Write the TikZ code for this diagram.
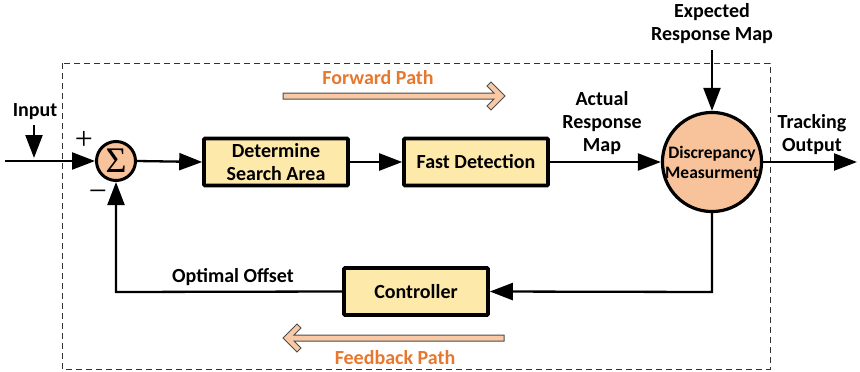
\documentclass[tikz,border=0pt]{standalone}
\usepackage{fontspec}
\setmainfont{Carlito}
\newfontfamily\sigfont{Liberation Serif}
\usetikzlibrary{arrows.meta}
\definecolor{boxfill}{HTML}{FDE9A9}
\definecolor{circfill}{HTML}{F8C39A}
\definecolor{pathtext}{HTML}{E8772E}
\definecolor{fatfill}{HTML}{F9C9A5}
\tikzset{
  txt/.style={font=\fontsize{20}{23}\selectfont\bfseries, align=center, inner sep=0pt},
  sgn/.style={font=\sigfont\fontsize{32}{32}\selectfont, inner sep=0pt},
  blockbox/.style={draw, line width=3.6pt, fill=boxfill, minimum width=144, minimum height=47, inner sep=0pt, font=\fontsize{20}{23}\selectfont\bfseries, align=center, rounded corners=1pt},
  conn/.style={line width=2.3pt, -{Triangle[length=23pt,width=17pt]}},
  pathlbl/.style={font=\fontsize{20}{23}\selectfont\bfseries, text=pathtext, inner sep=0pt},
  fatarrow/.style={draw=black!70, line width=1pt, fill=fatfill, line join=miter},
}
\begin{document}
\begin{tikzpicture}[x=1pt, y=-1pt]
\useasboundingbox (0,0) rectangle (860,372);
% dashed frame
\draw[dashed, dash pattern=on 6pt off 4pt, line width=1pt, black!80] (62,63) rectangle (770,369);
% nodes
\coordinate (in) at (5,161);
\node[draw, circle, line width=3pt, fill=circfill, minimum size=39, inner sep=0pt] (sum) at (116,161) {\sigfont\fontsize{36}{36}\selectfont Σ};
\node[blockbox] (det) at (276,162) {Determine\\Search Area};
\node[blockbox] (fast) at (476,162) {Fast Detection};
\node[draw, circle, line width=3.2pt, fill=circfill, minimum size=97, inner sep=0pt, font=\fontsize{17.5}{20}\selectfont\bfseries, align=center] (disc) at (712,162) {Discrepancy\\Measurment};
\node[blockbox] (ctrl) at (416,291.5) {Controller};
\coordinate (out) at (857,162);
\coordinate (expin) at (712,50);
\coordinate (inarrow) at (34,125);
\coordinate (inarrowend) at (34,158);
\coordinate (fbcorner1) at (712,292);
\coordinate (fbcorner2) at (116,292);
% labels
\node[txt] (lin) at (35,112) {Input};
\node[sgn] (lplus) at (84,140) {+};
\node[sgn] (lminus) at (98,196) {−};
\node[txt] (lexp) at (712,24) {Expected\\Response Map};
\node[txt] (lact) at (602,123) {Actual\\Response\\Map};
\node[txt] (ltrack) at (812,135) {Tracking\\Output};
\node[txt] (lopt) at (233,277) {Optimal Offset};
\node[pathlbl] (lfwd) at (378,78) {Forward Path};
\node[pathlbl] (lfb) at (395,358) {Feedback Path};
% connectors
\draw[conn] (in) -- (sum.west);
\draw[conn] (inarrow) -- (inarrowend);
\draw[conn] (sum.east) -- (det.west);
\draw[conn] (det.east) -- (fast.west);
\draw[conn] (fast.east) -- (disc.west);
\draw[conn] (expin) -- (disc.north);
\draw[conn] (disc.east) -- (out);
\draw[conn] (disc.south) -- (fbcorner1) -- (ctrl.east);
\draw[conn] (ctrl.west) -- (fbcorner2) -- (sum.south);
% fat path arrows
\draw[fatarrow] (283,93) -- (494,93) -- (487,86) -- (491,82) -- (505,96) -- (491,110) -- (487,106) -- (494,99) -- (283,99) -- cycle;
\draw[fatarrow] (504,335) -- (294,335) -- (301,328) -- (297,324) -- (283,338) -- (297,352) -- (301,348) -- (294,341) -- (504,341) -- cycle;
\end{tikzpicture}
\end{document}
